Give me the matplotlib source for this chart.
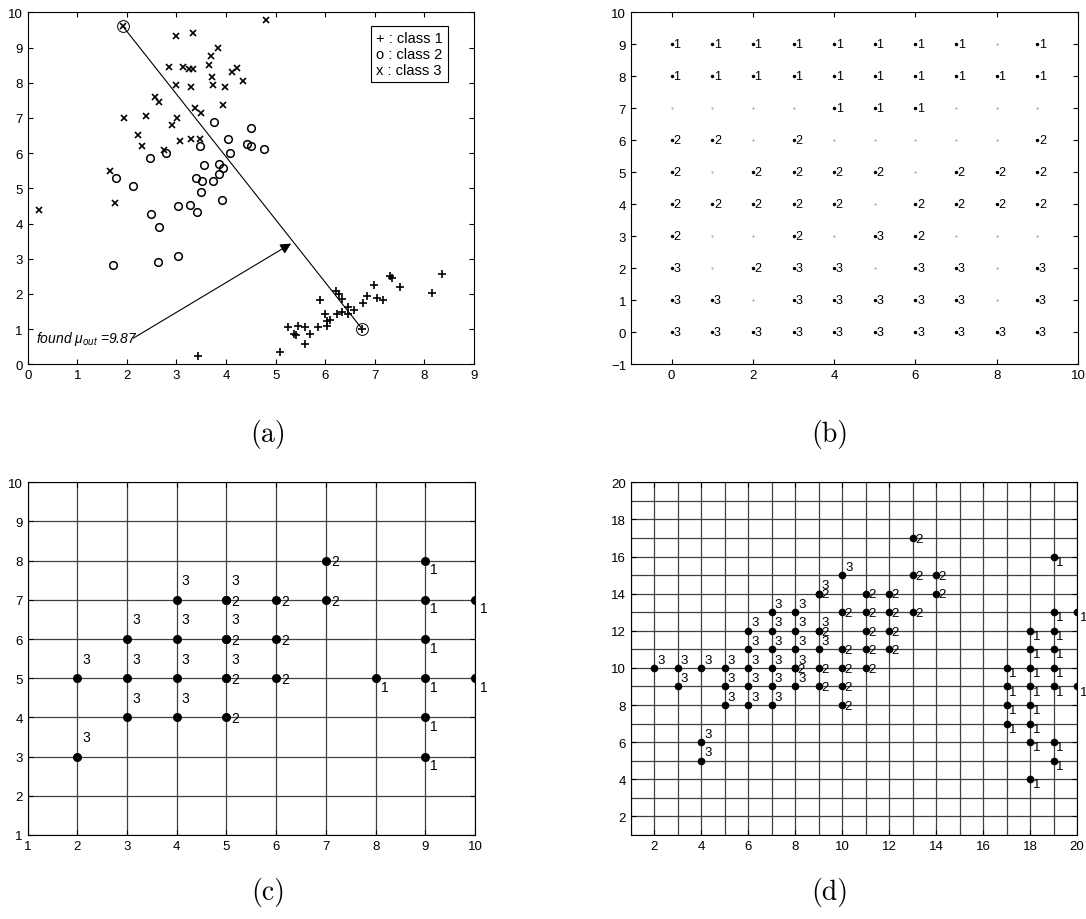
import matplotlib
matplotlib.use("Agg")
import matplotlib.pyplot as plt
from matplotlib.ticker import MultipleLocator

plt.rcParams['font.family'] = 'Liberation Sans'
plt.rcParams['mathtext.fontset'] = 'custom'
plt.rcParams['mathtext.rm'] = 'Liberation Sans'
plt.rcParams['mathtext.it'] = 'Liberation Sans:italic'
plt.rcParams['xtick.direction'] = 'in'
plt.rcParams['ytick.direction'] = 'in'
plt.rcParams['xtick.top'] = True
plt.rcParams['ytick.right'] = True
plt.rcParams['xtick.labelsize'] = 9.5
plt.rcParams['ytick.labelsize'] = 9.5
plt.rcParams['axes.linewidth'] = 0.8

# ---- (a) raw samples of the three classes ----
c1_x = [5.09, 5.24, 5.45, 5.38, 5.42, 5.60, 5.59, 5.69, 5.86, 5.90, 5.99, 6.03,
        6.03, 6.09, 6.22, 6.27, 6.33, 6.24, 6.34, 6.46, 6.46, 6.58, 6.77, 6.85,
        6.98, 7.04, 7.16, 7.30, 7.34, 7.50, 8.16, 8.35, 3.43, 6.74]
c1_y = [0.36, 1.07, 1.10, 0.85, 0.84, 1.07, 0.59, 0.86, 1.07, 1.84, 1.43, 1.24,
        1.08, 1.26, 2.08, 2.00, 1.86, 1.43, 1.48, 1.62, 1.44, 1.53, 1.75, 1.93,
        2.25, 1.88, 1.82, 2.52, 2.44, 2.20, 2.03, 2.57, 0.23, 1.01]

c2_x = [3.75, 4.50, 4.04, 4.43, 4.50, 4.76, 3.48, 4.08, 2.78, 2.47, 3.56, 3.86,
        3.93, 3.86, 1.79, 3.39, 3.52, 3.74, 2.13, 3.50, 3.92, 3.04, 3.27, 3.41,
        2.49, 2.64, 3.04, 2.62, 1.73]
c2_y = [6.89, 6.70, 6.41, 6.27, 6.21, 6.11, 6.21, 6.00, 6.00, 5.85, 5.66, 5.68,
        5.57, 5.42, 5.30, 5.30, 5.22, 5.22, 5.06, 4.89, 4.68, 4.49, 4.53, 4.32,
        4.28, 3.90, 3.07, 2.91, 2.83]

c3_x = [1.92, 3.00, 3.34, 3.84, 3.70, 2.85, 3.14, 3.25, 3.33, 3.66, 3.72, 3.74,
        4.12, 4.23, 4.34, 3.00, 3.29, 3.98, 2.57, 2.65, 3.94, 3.38, 3.50, 1.94,
        2.39, 3.02, 2.90, 2.23, 2.31, 3.08, 3.29, 3.48, 2.74, 1.65, 4.80, 1.77,
        0.23]
c3_y = [9.60, 9.34, 9.40, 8.98, 8.75, 8.45, 8.45, 8.38, 8.40, 8.50, 8.15, 7.93,
        8.30, 8.43, 8.05, 7.93, 7.89, 7.89, 7.59, 7.44, 7.36, 7.27, 7.15, 7.01,
        7.05, 6.99, 6.79, 6.52, 6.20, 6.35, 6.41, 6.39, 6.09, 5.48, 9.78, 4.58,
        4.38]

# direction found between the two extreme samples
proj_x = [1.92, 6.74]
proj_y = [9.60, 1.01]
mu_point = (5.36, 3.47)
mu_out = 9.87

# ---- (b) class of every cell on a 10 x 10 lattice, rows from y=9 down to y=0 ----
b_rows = [
    [1, 1, 1, 1, 1, 1, 1, 1, 0, 1],
    [1, 1, 1, 1, 1, 1, 1, 1, 1, 1],
    [0, 0, 0, 0, 1, 1, 1, 0, 0, 0],
    [2, 2, 0, 2, 0, 0, 0, 0, 0, 2],
    [2, 0, 2, 2, 2, 2, 0, 2, 2, 2],
    [2, 2, 2, 2, 2, 0, 2, 2, 2, 2],
    [2, 0, 0, 2, 0, 3, 2, 0, 0, 0],
    [3, 0, 2, 3, 3, 0, 3, 3, 0, 3],
    [3, 3, 0, 3, 3, 3, 3, 3, 0, 3],
    [3, 3, 3, 3, 3, 3, 3, 3, 3, 3],
]

# ---- (c) labelled nodes on the coarse grid ----
gc_1 = [(8, 5), (9, 3), (9, 4), (9, 5), (9, 6), (9, 7), (9, 8), (10, 5), (10, 7)]
gc_2 = [(5, 4), (5, 5), (5, 6), (5, 7), (6, 5), (6, 6), (6, 7), (7, 7), (7, 8)]
gc_3 = [(2, 3), (2, 5), (3, 4), (3, 5), (3, 6), (4, 4), (4, 5), (4, 6), (4, 7),
        (5, 5), (5, 6), (5, 7)]

# ---- (d) labelled nodes on the fine grid ----
gd_1 = [(19, 16), (19, 13), (20, 13), (18, 12), (19, 12), (18, 11), (19, 11),
        (17, 10), (18, 10), (19, 10), (17, 9), (18, 9), (19, 9), (20, 9),
        (17, 8), (18, 8), (17, 7), (18, 7), (18, 6), (19, 6), (19, 5), (18, 4)]
gd_2 = [(13, 17), (13, 15), (14, 15), (9, 14), (11, 14), (12, 14), (14, 14),
        (10, 13), (11, 13), (12, 13), (13, 13), (9, 12), (11, 12), (12, 12),
        (10, 11), (11, 11), (12, 11), (8, 10), (9, 10), (10, 10), (11, 10),
        (9, 9), (10, 9), (10, 8)]
gd_3 = [(10, 15), (9, 14), (7, 13), (8, 13), (6, 12), (7, 12), (8, 12), (9, 12),
        (6, 11), (7, 11), (8, 11), (9, 11), (2, 10), (3, 10), (4, 10), (5, 10),
        (6, 10), (7, 10), (8, 10), (3, 9), (5, 9), (6, 9), (7, 9), (8, 9),
        (5, 8), (6, 8), (7, 8), (4, 6), (4, 5)]

W, H = 1086, 920
fig = plt.figure(figsize=(W / 100, H / 100), dpi=100)


def axes_px(left, top, right, bottom):
    return fig.add_axes([left / W, 1 - bottom / H, (right - left) / W, (bottom - top) / H])


# (a)
ax = axes_px(27.7, 13.3, 474, 365.3)
ax.plot(c1_x, c1_y, '+', color='k', ms=6, mew=1.2)
ax.plot(c2_x, c2_y, 'o', mfc='none', mec='k', ms=5.5, mew=1.1)
ax.plot(c3_x, c3_y, 'x', color='k', ms=4, mew=1.2)
ax.plot(proj_x, proj_y, '-', color='k', lw=0.8)
ax.plot(proj_x, proj_y, 'o', mfc='none', mec='k', ms=8.5, mew=0.7)
ax.annotate('', xy=mu_point, xytext=(2.08, 0.70),
            arrowprops=dict(arrowstyle='-|>', color='k', lw=0.8, mutation_scale=16))
ax.text(0.17, 0.74, 'found μ$_{out}$ =%.2f' % mu_out, style='italic', fontsize=10,
        va='center', ha='left')
ax.text(7.03, 9.47, '+ : class 1\no : class 2\nx : class 3', fontsize=10.5, va='top',
        ha='left', linespacing=1.2,
        bbox=dict(boxstyle='square,pad=0.35', fc='white', ec='k', lw=0.8))
ax.set_xlim(0, 9)
ax.set_ylim(0, 10)
ax.set_xticks(range(0, 10))
ax.set_yticks(range(0, 11))

# (b)
ax = axes_px(631, 13.3, 1078, 365.3)
n_rows = len(b_rows)
for r, row in enumerate(b_rows):
    yv = n_rows - 1 - r
    for xv, cls in enumerate(row):
        if cls:
            ax.plot(xv, yv, '.', color='k', ms=3)
            ax.text(xv + 0.04, yv, str(cls), fontsize=9, va='center', ha='left')
        else:
            ax.plot(xv, yv, '.', color='0.6', ms=1.0)
ax.set_xlim(-1, 10)
ax.set_ylim(-1, 10)
ax.set_xticks(range(0, 11, 2))
ax.set_yticks(range(-1, 11))


def draw_nodes(ax, groups, offs, ms, fs):
    for cls, pts in groups:
        dx, dy = offs[cls]
        ax.plot([p[0] for p in pts], [p[1] for p in pts], 'o', color='k', ms=ms,
                zorder=3)
        for px, py in pts:
            ax.text(px + dx, py + dy, str(cls), fontsize=fs, va='center', ha='left',
                    zorder=4, clip_on=False)


# (c)
ax = axes_px(27.7, 483.3, 475, 836)
ax.set_xlim(1, 10)
ax.set_ylim(1, 10)
ax.set_xticks(range(1, 11))
ax.set_yticks(range(1, 11))
ax.grid(True, color='0.25', lw=0.9, ls='-')
ax.set_axisbelow(True)
draw_nodes(ax, [(3, gc_3), (2, gc_2), (1, gc_1)],
           {3: (0.1, 0.5), 2: (0.1, -0.02), 1: (0.1, -0.22)}, 5.5, 10)

# (d)
ax = axes_px(630.7, 483.3, 1077, 836)
ax.set_xlim(1, 20)
ax.set_ylim(1, 20)
ax.set_xticks(range(2, 21, 2))
ax.set_yticks(range(2, 21, 2))
ax.xaxis.set_minor_locator(MultipleLocator(1))
ax.yaxis.set_minor_locator(MultipleLocator(1))
ax.tick_params(which='minor', length=0)
ax.grid(True, which='both', color='0.25', lw=0.9, ls='-')
ax.set_axisbelow(True)
draw_nodes(ax, [(3, gd_3), (2, gd_2), (1, gd_1)],
           {3: (0.13, 0.45), 2: (0.1, -0.04), 1: (0.12, -0.27)}, 4.5, 9.5)

# captions
for label, xc, yc in [('(a)', 268, 435), ('(b)', 830, 435), ('(c)', 268, 893), ('(d)', 830, 893)]:
    fig.text(xc / W, 1 - yc / H, label, fontfamily='cmr10', fontsize=20,
             ha='center', va='center')

fig.savefig('out.png', dpi=100)
